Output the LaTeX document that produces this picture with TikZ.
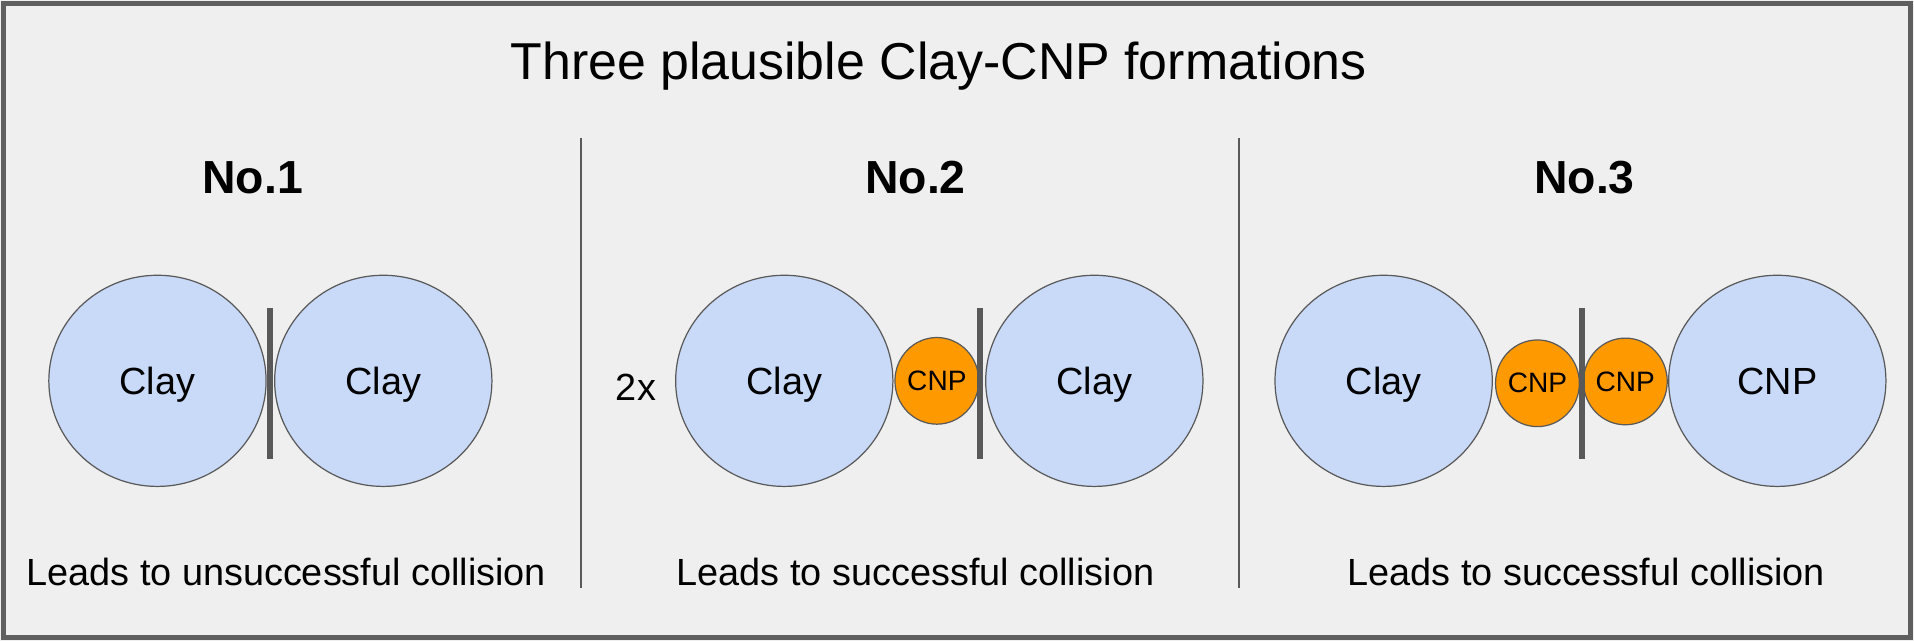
\documentclass[tikz,border=0pt]{standalone}
\usepackage{fontspec}
\setmainfont{Liberation Sans}
\usepackage{xcolor}
\usepackage{tikz}
\usetikzlibrary{shapes.geometric}
\definecolor{bg}{HTML}{EFEFEF}
\definecolor{frame}{HTML}{5F5F5F}
\definecolor{edge}{HTML}{595959}
\definecolor{clayfill}{HTML}{C9DAF8}
\definecolor{cnpfill}{HTML}{FF9900}
\tikzset{
  big/.style={ellipse, draw=edge, line width=1pt, fill=clayfill, inner sep=0pt,
    minimum width=178pt, minimum height=173pt, text depth=0pt,
    font=\fontsize{31}{37}\selectfont},
  small/.style={ellipse, draw=edge, line width=1pt, fill=cnpfill, inner sep=0pt,
    minimum width=68pt, minimum height=71pt, font=\fontsize{23}{28}\selectfont},
  wall/.style={draw=edge, line width=4.5pt},
  sep/.style={draw=edge, line width=1.3pt},
  head/.style={anchor=base, font=\fontsize{38}{46}\selectfont\bfseries},
  lab/.style={anchor=base, font=\fontsize{31}{37}\selectfont},
  every node/.style={text=black}
}

\begin{document}
\begin{tikzpicture}[x=1pt,y=1pt]
  \useasboundingbox (0,0) rectangle (1568,525);
  \fill[bg] (0,0) rectangle (1568,525);
  \draw[frame, line width=4pt] (3,3) rectangle (1565,522);

  \node[anchor=base, font=\fontsize{42.5}{51}\selectfont] (title) at (769,460)
    {Three plausible Clay-CNP formations};

  \coordinate (s1t) at (476,412); \coordinate (s1b) at (476,43);
  \coordinate (s2t) at (1015,412); \coordinate (s2b) at (1015,43);
  \draw[sep] (s1t)--(s1b);
  \draw[sep] (s2t)--(s2b);

  \node[head] (h1) at (207,366.5) {No.1};
  \node[head] (h2) at (750,366.5) {No.2};
  \node[head] (h3) at (1298,366.5) {No.3};

  % No.1
  \node[big] (clayA) at (129,213) {Clay\hspace{8pt}};
  \node[big] (clayB) at (314,213) {Clay\hspace{8pt}};
  \coordinate (w1t) at (221,273); \coordinate (w1b) at (221,149);
  \draw[wall] (w1t)--(w1b);
  \node[lab] (res1) at (234.5,45) {Leads to unsuccessful collision};

  % No.2
  \node[lab] (times) at (521,196.5) {2x};
  \node[big] (clayC) at (642.5,213) {Clay\hspace{6pt}};
  \node[small] (cnpA) at (767.5,213) {CNP};
  \node[big] (clayD) at (896.5,213) {Clay\hspace{8pt}};
  \coordinate (w2t) at (803,273); \coordinate (w2b) at (803,149);
  \draw[wall] (w2t)--(w2b);
  \node[lab] (res2) at (750,45) {Leads to successful collision};

  % No.3
  \node[big] (clayE) at (1133.5,213) {Clay\hspace{7pt}};
  \node[small] (cnpB) at (1259.5,211) {CNP};
  \node[small] (cnpC) at (1331.5,212.5) {CNP};
  \node[big] (cnpD) at (1456,213) {CNP\hspace{8pt}};
  \coordinate (w3t) at (1296,273); \coordinate (w3b) at (1296,149);
  \draw[wall] (w3t)--(w3b);
  \node[lab] (res3) at (1299.5,45) {Leads to successful collision};
\end{tikzpicture}
\end{document}
